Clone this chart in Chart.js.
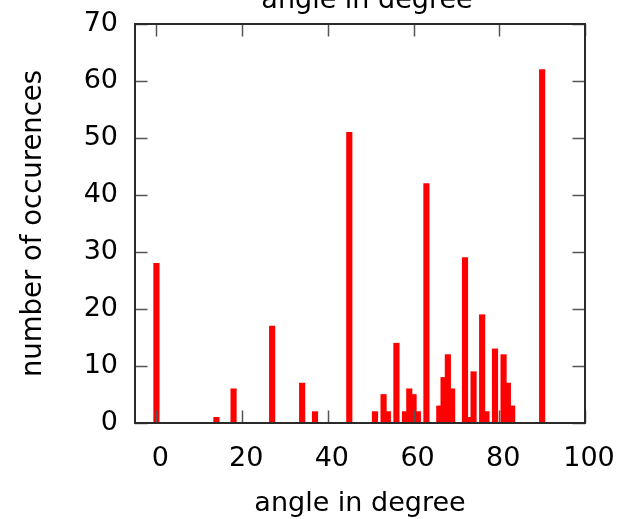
<!DOCTYPE html>
<html>
<head>
<meta charset="utf-8">
<script src="https://cdn.jsdelivr.net/npm/chart.js@4/dist/chart.umd.min.js"></script>
<style>
  html, body { margin: 0; padding: 0; background: #fff; }
  #wrap { width: 617px; height: 519px; }
</style>
</head>
<body>
<div id="wrap"><canvas id="angleChart" width="617" height="519"></canvas></div>
<script>
// Histogramm der Winkel
var angles = [0, 14, 18, 27, 34, 37, 45, 51, 53, 54, 56, 58, 59, 60, 61, 63, 66, 67, 68, 69, 72, 73, 74, 76, 77, 79, 81, 82, 83, 90];
var counts = [28, 1, 6, 17, 7, 2, 51, 2, 5, 2, 14, 2, 6, 5, 2, 42, 3, 8, 12, 6, 29, 1, 9, 19, 2, 13, 12, 7, 3, 62];
var xTicks = [0, 20, 40, 60, 80, 100];
var yTicks = [0, 10, 20, 30, 40, 50, 60, 70];

var fontFamily = '"DejaVu Sans", sans-serif';

var points = angles.map(function(a, i) { return { x: a, y: counts[i] }; });

// Rahmen und Ticks nach innen (gnuplot-Stil), plus abgeschnittener Titel oben
var framePlugin = {
    id: 'frame',
    afterDraw: function(chart) {
        var ctx = chart.ctx;
        var area = chart.chartArea;
        var xs = chart.scales.x, ys = chart.scales.y;
        var len = 12.5;
        ctx.save();
        ctx.strokeStyle = '#555';
        ctx.lineWidth = 1.5;
        ctx.beginPath();
        xTicks.forEach(function(t) {
            var px = Math.round(xs.getPixelForValue(t)) + 0.5;
            ctx.moveTo(px, area.bottom); ctx.lineTo(px, area.bottom - len);
            ctx.moveTo(px, area.top); ctx.lineTo(px, area.top + len);
        });
        yTicks.forEach(function(t) {
            var py = Math.round(ys.getPixelForValue(t)) + 0.5;
            ctx.moveTo(area.left, py); ctx.lineTo(area.left + len, py);
            ctx.moveTo(area.right, py); ctx.lineTo(area.right - len, py);
        });
        ctx.stroke();
        ctx.strokeStyle = '#2a2a2a';
        ctx.lineWidth = 2;
        ctx.strokeRect(area.left, area.top, area.right - area.left, area.bottom - area.top);
        ctx.fillStyle = '#000';
        ctx.font = '27px ' + fontFamily;
        ctx.textAlign = 'center';
        ctx.textBaseline = 'alphabetic';
        ctx.fillText('angle in degree', 367, 8);
        ctx.restore();
    }
};

var ctx = document.getElementById('angleChart').getContext('2d');
var chart = new Chart(ctx, {
    type: 'bar',
    data: {
        datasets: [{
            data: points,
            backgroundColor: '#ff0000',
            borderWidth: 0,
            barThickness: 5.5,
            grouped: false
        }]
    },
    options: {
        responsive: false,
        animation: false,
        layout: { padding: { top: 24, right: 32, left: 0, bottom: 0 } },
        plugins: {
            legend: { display: false },
            tooltip: { enabled: false }
        },
        scales: {
            x: {
                type: 'linear',
                offset: false,
                min: -5,
                max: 100,
                afterFit: function(s) { s.height = 96; s.paddingLeft = 0; s.paddingRight = 0; },
                afterBuildTicks: function(s) { s.ticks = xTicks.map(function(v) { return { value: v }; }); },
                grid: { display: false, drawTicks: false, offset: false },
                border: { display: false },
                ticks: { color: '#000', font: { family: fontFamily, size: 27 }, padding: 20, labelOffset: 4, maxRotation: 0 },
                title: { display: true, text: 'angle in degree', color: '#000', font: { family: fontFamily, size: 27 }, padding: { top: 0, bottom: -1 } }
            },
            y: {
                min: 0,
                max: 70,
                afterFit: function(s) { s.width = 135; s.paddingTop = 0; s.paddingBottom = 0; },
                afterBuildTicks: function(s) { s.ticks = yTicks.map(function(v) { return { value: v }; }); },
                grid: { display: false, drawTicks: false },
                border: { display: false },
                ticks: { color: '#000', font: { family: fontFamily, size: 27 }, padding: 17 },
                title: { display: true, text: 'number of occurences', color: '#000', font: { family: fontFamily, size: 27.5 }, padding: { top: 17, bottom: 0 } }
            }
        }
    },
    plugins: [framePlugin]
});
</script>
</body>
</html>
